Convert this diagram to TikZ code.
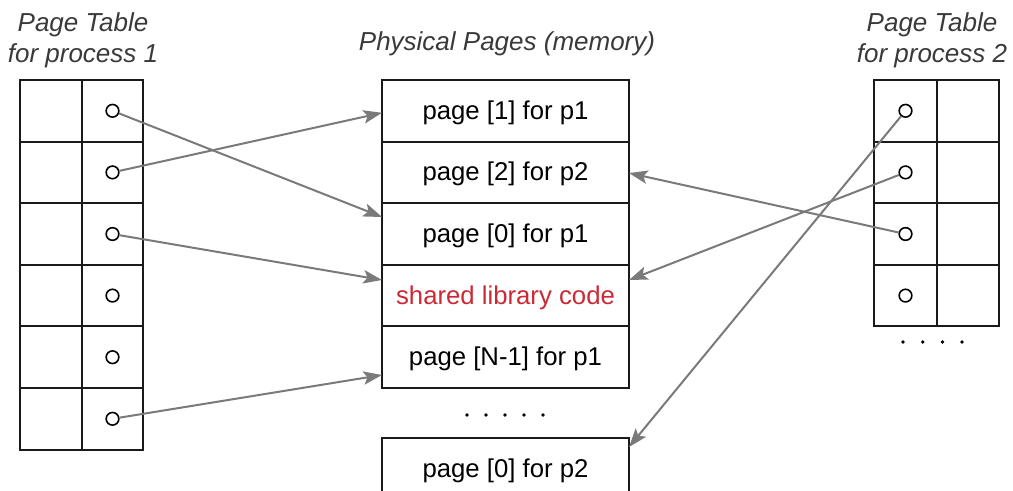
\documentclass[tikz,border=0pt]{standalone}
\usepackage{fontspec}
\setmainfont{Liberation Sans}
\usetikzlibrary{arrows.meta,calc}
\definecolor{linkgray}{HTML}{7A7A7A}
\definecolor{libred}{HTML}{CC2936}
\definecolor{titlegray}{HTML}{3A3A3A}
\definecolor{boxline}{HTML}{1A1A1A}
\begin{document}
\begin{tikzpicture}[x=0.75pt,y=-0.75pt,
  cellbox/.style={draw=boxline, line width=1.5pt, inner sep=0pt, outer sep=0pt, minimum height=46.2pt},
  memcell/.style={cellbox, minimum width=185.25pt, font=\fontsize{19.3}{23}\selectfont, text=black, text height=16.9pt, text depth=4pt},
  ptr/.style={circle, draw=black, line width=1.2pt, minimum size=9.5pt, inner sep=0pt, fill=white},
  link/.style={draw=linkgray, line width=1.5pt, -{Stealth[length=14pt,width=10pt,inset=3pt,fill=linkgray]}},
  ttl/.style={font=\fontsize{19.5}{23.25}\selectfont\itshape, text=titlegray, align=center, inner sep=0pt},
  dot/.style={fill=black}
]
\clip (0,0) rectangle (1013,491);
\fill[white] (0,0) rectangle (1013,491);

% titles
\node[ttl] (t1) at (83,40) {Page Table\\for process 1};
\node[ttl] (tm) at (507,44) {Physical Pages (memory)};
\node[ttl] (t2) at (932,40) {Page Table\\for process 2};

% left page table (6 rows)
\foreach \i in {0,...,5}{
  \node[cellbox, minimum width=46.5pt] (LA\i) at (51,{110.8+61.6*\i}) {};
  \node[cellbox, minimum width=45.75pt] (LB\i) at (112.5,{110.8+61.6*\i}) {};
  \node[ptr] (pL\i) at (LB\i.center) {};
}

% right page table (4 rows)
\foreach \i in {0,...,3}{
  \node[cellbox, minimum width=47.25pt] (RA\i) at (905.5,{110.8+61.6*\i}) {};
  \node[cellbox, minimum width=46.5pt] (RB\i) at (968,{110.8+61.6*\i}) {};
  \node[ptr] (pR\i) at (RA\i.center) {};
}
\foreach \k in {0,...,3}{\fill[dot] ({903+19.7*\k},342) circle (1.4pt);}

% physical pages
\node[memcell] (m0) at (505.5,110.8) {page [1] for p1};
\node[memcell] (m1) at (505.5,172.4) {page [2] for p2};
\node[memcell] (m2) at (505.5,234.0) {page [0] for p1};
\node[memcell, text=libred] (m3) at (505.5,295.6) {shared library code};
\node[memcell] (m4) at (505.5,357.2) {page [N-1] for p1};
\foreach \k in {0,...,4}{\fill[dot] ({467+19*\k},415) circle (1.4pt);}
\node[memcell] (m5) at (505.5,468.8) {page [0] for p2};

% process 1 mappings
\draw[link] (pL0) -- ([yshift=12.75pt]m2.west);
\draw[link] (pL1) -- ([yshift=-1.5pt]m0.west);
\draw[link] (pL2) -- ([yshift=11.7pt]m3.west);
\draw[link] (pL5) -- ([yshift=-13.35pt]m4.west);

% process 2 mappings
\draw[link] (pR0) -- ([yshift=16.35pt]m5.east);
\draw[link] (pR1) -- ([yshift=11.7pt]m3.east);
\draw[link] (pR2) -- ([yshift=-0.5pt]m1.east);
\end{tikzpicture}
\end{document}
